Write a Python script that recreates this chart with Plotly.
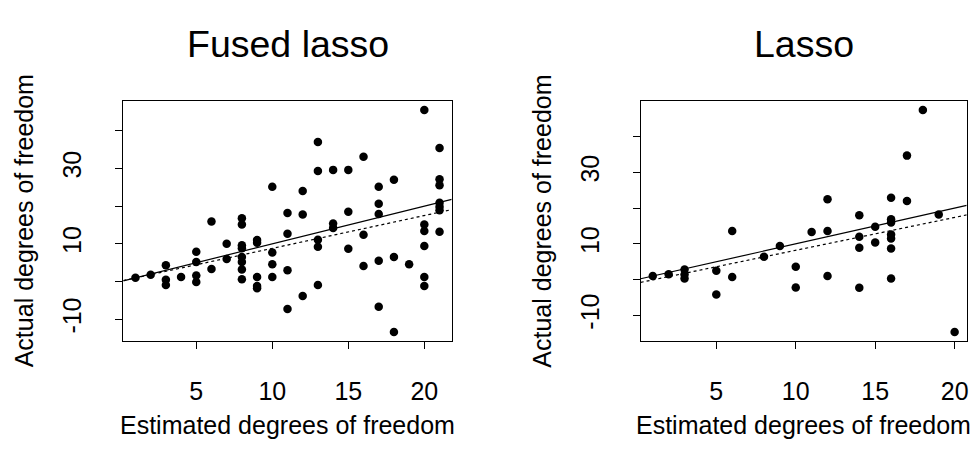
import plotly.graph_objects as go

# ---- Data ----
fused_x = [1, 2, 3, 3, 3, 4, 5, 5, 5, 5, 6, 6, 7, 7,
           8, 8, 8, 8, 8, 8, 8, 8,
           9, 9, 9, 9, 9, 10, 10, 10, 10,
           11, 11, 11, 11, 12, 12, 12,
           13, 13, 13, 13, 13, 14, 14, 14, 15, 15, 15,
           16, 16, 16, 17, 17, 17, 17, 17, 18, 18, 18, 19,
           20, 20, 20, 20, 20, 20,
           21, 21, 21, 21, 21, 21, 21]
fused_y = [1.0, 1.8, 4.3, 0.5, -0.9, 1.2, 7.9, 5.2, 1.6, -0.1, 15.9, 3.3, 10.0, 6.0,
           16.8, 15.1, 9.6, 8.8, 6.5, 5.2, 3.2, 0.6,
           11.0, 10.3, 1.2, -1.2, -1.8, 25.1, 7.7, 4.6, 1.2,
           18.2, 12.7, 3.0, -7.3, 24.0, 17.8, -3.8,
           37.0, 29.3, 11.1, 9.2, -0.9, 29.6, 15.4, 14.2, 29.6, 18.5, 8.7,
           33.1, 12.4, 4.1, 25.1, 20.6, 17.9, 5.5, -6.7, 27.0, 6.5, -13.4, 4.6,
           45.5, 15.1, 13.4, 9.4, 1.2, -1.2,
           35.4, 27.1, 25.5, 20.9, 19.8, 18.9, 13.2]

lasso_x = [1, 2, 3, 3, 3, 5, 5, 6, 6, 8, 9, 10, 10, 11,
           12, 12, 12, 14, 14, 14, 14, 15, 15,
           16, 16, 16, 16, 16, 16, 16, 17, 17, 18, 19, 20]
lasso_y = [1.0, 1.5, 2.8, 1.4, 0.3, 2.5, -4.2, 13.6, 0.7, 6.4, 9.4, 3.6, -2.2, 13.3,
           22.5, 13.6, 1.0, 18.0, 12.0, 8.9, -2.3, 14.8, 10.4,
           22.9, 16.9, 16.0, 12.6, 11.5, 8.7, 0.3, 34.7, 22.0, 47.5, 18.2, -14.7]

# fitted (dotted) lines: intercept, slope ; solid line is y = x
fused_fit = (0.1, 0.87)
lasso_fit = (-1.0, 0.92)

titles = ["Fused lasso", "Lasso"]
x_label = "Estimated degrees of freedom"
y_label = "Actual degrees of freedom"
x_ticks = [5, 10, 15, 20]
y_ticks = [-10, 0, 10, 20, 30, 40]
y_ticktext = ["-10", "", "10", "", "30", ""]

W, H = 977, 467
FONT = "Liberation Sans, Arial, sans-serif"

# plot boxes in pixels (left, right, top, bottom)
boxes = [(123.3, 451.7, 101, 341), (640.7, 966.7, 101, 341)]


def ext(vals):
    lo, hi = min(vals), max(vals)
    r = hi - lo
    return [lo - 0.04 * r, hi + 0.04 * r]


fig = go.Figure()
panels = [(fused_x, fused_y, fused_fit), (lasso_x, lasso_y, lasso_fit)]
for i, (xs, ys, fit) in enumerate(panels):
    xa = "x" if i == 0 else "x2"
    ya = "y" if i == 0 else "y2"
    xr = ext(xs)
    yr = ext(ys)
    fig.add_trace(go.Scatter(x=xs, y=ys, mode="markers", xaxis=xa, yaxis=ya,
                             marker=dict(color="black", size=8.5, line=dict(width=0)),
                             showlegend=False, hoverinfo="skip"))
    # y = x reference line
    fig.add_trace(go.Scatter(x=xr, y=xr, mode="lines", xaxis=xa, yaxis=ya,
                             line=dict(color="black", width=1.2),
                             showlegend=False, hoverinfo="skip"))
    # fitted dotted line
    a, b = fit
    fig.add_trace(go.Scatter(x=xr, y=[a + b * v for v in xr], mode="lines",
                             xaxis=xa, yaxis=ya,
                             line=dict(color="black", width=1.2, dash="3px,3px"),
                             showlegend=False, hoverinfo="skip"))

    l, r, t, b_ = boxes[i]
    axcommon = dict(showline=True, mirror=True, linecolor="black", linewidth=1,
                    ticks="outside", ticklen=7, tickcolor="black", tickwidth=1,
                    showgrid=False, zeroline=False, automargin=False,
                    tickfont=dict(family=FONT, size=25, color="black"))
    key_x = "xaxis" if i == 0 else "xaxis2"
    key_y = "yaxis" if i == 0 else "yaxis2"
    fig.layout[key_x] = dict(domain=[l / W, r / W], range=xr, anchor=ya,
                             tickvals=x_ticks, ticklabelstandoff=21, **axcommon)
    fig.layout[key_y] = dict(domain=[1 - b_ / H, 1 - t / H], range=yr, anchor=xa,
                             tickvals=y_ticks, ticktext=y_ticktext, tickangle=-90,
                             ticklabelstandoff=24, **axcommon)

    cx = (l + r) / 2 / W
    fig.add_annotation(text=titles[i], x=cx, y=1 - 44 / H, xref="paper", yref="paper",
                       showarrow=False, xanchor="center", yanchor="middle",
                       font=dict(family=FONT, size=37.5, color="black"))
    fig.add_annotation(text=x_label, x=cx, y=1 - 425 / H, xref="paper", yref="paper",
                       showarrow=False, xanchor="center", yanchor="middle",
                       font=dict(family=FONT, size=25, color="black"))
    ylx = (l - 99) / W
    fig.add_annotation(text=y_label, x=ylx, y=1 - ((t + b_) / 2) / H,
                       xref="paper", yref="paper", textangle=-90,
                       showarrow=False, xanchor="center", yanchor="middle",
                       font=dict(family=FONT, size=25, color="black"))

fig.update_layout(width=W, height=H, margin=dict(l=0, r=0, t=0, b=0),
                  paper_bgcolor="white", plot_bgcolor="white",
                  font=dict(family=FONT, color="black"))

fig.write_html("out.html")
